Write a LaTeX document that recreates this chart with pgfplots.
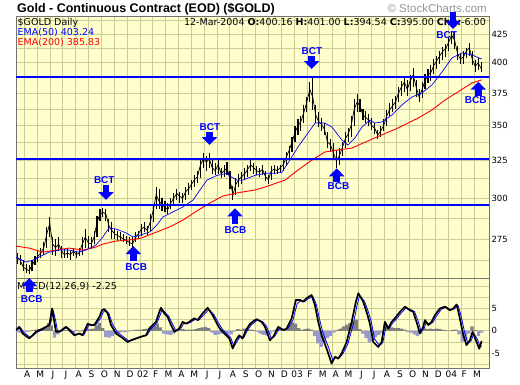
\documentclass[border=0pt]{standalone}
\usepackage{pgfplots}
\pgfplotsset{compat=1.18}
\usepackage{pgfplotstable}
\usepackage{fontspec}
\setmainfont{DejaVu Sans}
\newfontfamily\arial{Liberation Sans}
\usetikzlibrary{arrows.meta}
\definecolor{bgyellow}{RGB}{255,255,204}
\definecolor{gridc}{RGB}{204,204,153}
\definecolor{histgray}{RGB}{128,128,128}
\definecolor{histblue}{RGB}{153,153,204}
\definecolor{scgray}{RGB}{150,150,150}
\definecolor{sblue}{RGB}{0,0,255}
\definecolor{sred}{RGB}{255,0,0}

\pgfplotstableread{
m c l h
2.45 264 261 267
2.68 263 260 266
2.91 259 257 263
3.14 258 256 261
3.37 257 255 260
3.60 260 257 263
3.83 263 260 265
4.06 265 262 268
4.29 267 264 270
4.52 270 266 273
4.75 278 270 282
4.98 284 276 288
5.21 272 266 276
5.44 270 265 275
5.67 272 268 276
5.90 268 264 271
6.13 266 264 269
6.36 267 264 269
6.59 266 263 268
6.82 268 265 270
7.05 266 264 268
7.28 267 265 270
7.51 272 266 276
7.74 276 270 281
7.97 273 270 277
8.20 272 269 276
8.43 276 272 280
8.66 285 276 289
8.89 290 286 293
9.12 291 288 294
9.35 290 286 293
9.58 283 279 287
9.81 280 275 285
10.04 278 275 281
10.27 277 274 280
10.50 276 274 279
10.73 275 273 278
10.96 274 272 277
11.19 273 271 276
11.42 272 270 276
11.65 276 273 279
11.88 278 275 280
12.11 281 277 284
12.34 282 279 285
12.57 280 277 283
12.80 285 280 290
13.03 292 285 296
13.26 302 293 307
13.49 298 293 306
13.72 296 292 300
13.95 294 291 298
14.18 293 290 297
14.41 297 293 300
14.64 300 296 303
14.87 303 299 306
15.10 301 297 304
15.33 300 297 303
15.56 304 299 307
15.79 306 302 310
16.02 309 305 312
16.25 312 307 315
16.48 314 310 318
16.71 322 313 326
16.94 326 320 330
17.17 324 318 328
17.40 326 320 330
17.63 320 316 326
17.86 318 315 323
18.09 322 316 325
18.32 316 313 320
18.55 318 314 322
18.78 320 315 324
19.01 312 306 318
19.24 302 299 308
19.47 309 302 313
19.70 312 307 316
19.93 314 309 317
20.16 316 312 320
20.39 319 314 322
20.62 322 318 325
20.85 320 316 323
21.08 318 315 321
21.31 317 314 320
21.54 319 315 322
21.77 314 311 318
22.00 312 309 315
22.23 318 312 321
22.46 319 316 322
22.69 318 316 321
22.92 320 317 322
23.15 322 318 325
23.38 327 321 331
23.61 332 326 335
23.84 338 331 342
24.07 345 338 350
24.30 350 343 355
24.53 353 346 357
24.76 360 352 366
24.99 368 360 372
25.22 378 368 384
25.45 372 362 389
25.68 358 352 366
25.91 353 349 360
26.14 351 346 356
26.37 347 343 352
26.60 338 334 345
26.83 336 331 340
27.06 330 325 337
27.29 325 320 332
27.52 328 322 334
27.75 334 328 338
27.98 340 334 345
28.21 344 338 348
28.44 350 342 357
28.67 362 350 370
28.90 368 360 374
29.13 365 360 370
29.36 358 354 363
29.59 356 352 361
29.82 354 350 359
30.05 350 347 356
30.28 348 344 352
30.51 343 340 347
30.74 346 342 350
30.97 350 346 355
31.20 357 350 362
31.43 362 357 367
31.66 365 360 370
31.89 368 363 373
32.12 375 368 380
32.35 380 373 385
32.58 384 376 389
32.81 378 373 386
33.04 385 377 390
33.27 390 380 396
33.50 380 372 386
33.73 372 368 378
33.96 378 371 384
34.19 385 378 391
34.42 390 383 395
34.65 392 385 398
34.88 398 391 403
35.11 402 395 406
35.34 406 399 410
35.57 410 402 414
35.80 412 405 416
36.03 418 410 422
36.26 424 416 428
36.49 420 412 427
36.72 408 402 415
36.95 403 399 408
37.18 405 399 410
37.41 410 404 413
37.64 413 406 417
37.87 403 398 410
38.10 397 392 402
38.33 400 394 404
38.56 395 392 401
}\price

\pgfplotstableread{
m v
2.35 264.6
3.13 261.8
3.68 262.9
4.14 264.6
4.92 267.4
5.70 268.6
6.48 268.6
7.26 267.4
7.80 268.6
8.58 271.5
9.12 276.2
9.59 281.5
10.14 280.9
10.91 278.6
11.46 276.2
12.08 277.4
12.78 279.2
13.33 283.4
13.79 288.2
14.57 291.3
15.35 294.4
16.13 298.7
16.67 305.2
17.22 311.7
17.99 314.8
18.77 316.2
19.16 313.5
19.55 311.7
20.01 311.7
20.95 314.8
21.73 316.2
22.51 316.2
23.05 316.9
23.52 323.2
24.30 334.4
25.08 344.5
25.63 351.9
26.40 351.9
26.95 348.9
27.72 339.4
28.19 335.8
28.73 340.9
29.28 348.9
29.90 354.2
30.29 351.9
30.83 352.7
31.61 358.0
32.39 365.7
33.17 372.0
33.95 375.2
34.73 381.7
35.51 392.3
36.29 404.2
37.07 408.5
37.84 406.8
38.60 403.2
}\emafifty

\pgfplotstableread{
m v
2.35 270.9
3.37 269.7
4.46 267.4
5.47 268.6
6.48 269.7
7.57 268.6
8.58 270.3
9.12 272.0
10.14 273.8
11.15 274.4
12.08 275.5
13.33 279.2
14.34 282.2
15.35 286.3
16.44 291.9
17.45 296.9
18.46 301.3
19.55 303.3
20.95 305.2
21.73 307.1
23.29 311.7
24.30 318.4
25.39 325.3
26.40 330.9
27.41 332.3
28.50 333.7
29.90 339.4
32.08 348.2
33.64 355.6
34.73 361.8
35.74 369.6
36.75 376.0
37.84 383.3
38.60 385.8
}\ematwohundred

\pgfplotstableread{
m v
2.35 0.15
2.61 0.9
2.87 -0.6
3.39 -1.7
3.91 -0.2
4.43 0.5
4.95 1.3
5.16 5.0
5.34 2.0
5.47 -0.2
5.73 -0.2
6.24 0.9
6.50 0.15
6.89 -1.0
7.28 -0.6
7.54 -1.0
7.93 1.6
8.19 1.3
8.45 1.3
8.84 3.1
9.05 4.6
9.23 4.85
9.49 3.9
9.75 1.3
10.14 -0.6
10.65 -1.6
11.04 -2.5
11.30 -2.1
11.69 -1.7
12.08 -1.3
12.47 -1.0
12.73 0.5
12.99 1.3
13.25 2.0
13.51 4.25
13.64 5.15
13.90 3.9
14.16 3.1
14.42 1.3
14.68 -0.2
15.06 0.5
15.32 2.0
15.58 1.6
15.84 2.0
16.23 2.8
16.49 2.4
16.88 3.9
17.27 5.15
17.66 3.5
18.05 1.3
18.31 0.15
18.57 -0.6
18.96 -1.7
19.22 -3.95
19.47 -2.1
19.73 -1.0
19.99 -1.7
20.25 0.15
20.56 1.5
20.85 2.2
21.08 2.6
21.47 2.0
21.73 0.9
22.12 -2.1
22.38 -1.3
22.77 0.9
23.16 0.15
23.42 0.5
23.81 2.8
24.14 6.9
24.45 6.9
24.71 6.5
24.97 7.3
25.36 8.0
25.62 5.75
25.88 2.0
26.14 -1.0
26.53 -3.95
26.92 -7.3
27.18 -5.8
27.44 -6.2
27.70 -5.0
28.09 -2.5
28.48 2.0
28.81 6.5
29.00 8.4
29.38 6.5
29.64 4.25
29.90 1.6
30.16 -2.5
30.55 -3.6
30.81 -2.5
31.07 2.0
31.33 0.5
31.59 2.0
31.85 2.8
32.24 4.25
32.63 5.4
33.01 4.6
33.27 4.25
33.53 2.0
33.79 -0.6
34.05 0.9
34.18 2.4
34.44 1.3
34.70 2.0
34.96 3.5
35.35 5.0
35.74 5.4
36.13 4.6
36.39 5.0
36.65 5.9
36.85 3.5
37.17 -1.0
37.42 -3.2
37.68 -2.1
37.89 -0.2
38.15 -2.1
38.41 -4.0
38.60 -2.25
}\macd

\pgfplotstableread{
m v
2.45 0.2
2.71 0.7
2.97 -0.4
3.49 -1.5
4.01 -0.3
4.53 0.4
5.05 1.6
5.26 4.4
5.44 2.3
5.57 0.1
5.83 -0.1
6.34 0.8
6.60 0.2
6.99 -0.9
7.38 -0.6
7.64 -0.9
8.03 1.3
8.29 1.3
8.55 1.3
8.94 2.8
9.15 4.2
9.33 4.6
9.59 3.9
9.85 1.6
10.24 -0.3
10.75 -1.4
11.14 -2.3
11.40 -2.1
11.79 -1.7
12.18 -1.3
12.57 -0.9
12.83 0.3
13.09 1.1
13.35 1.9
13.61 3.8
13.74 4.8
14.00 4.0
14.26 3.2
14.52 1.6
14.78 0.1
15.16 0.4
15.42 1.7
15.68 1.6
15.94 1.9
16.33 2.6
16.59 2.4
16.98 3.6
17.37 4.8
17.76 3.6
18.15 1.6
18.41 0.4
18.67 -0.4
19.06 -1.5
19.32 -3.5
19.57 -2.3
19.83 -1.2
20.09 -1.5
20.35 0.0
20.66 1.3
20.95 2.0
21.18 2.4
21.57 2.0
21.83 1.1
22.22 -1.6
22.48 -1.3
22.87 0.6
23.26 0.3
23.52 0.5
23.91 2.4
24.24 6.1
24.55 6.8
24.81 6.5
25.07 7.1
25.46 7.7
25.72 6.0
25.98 2.6
26.24 -0.4
26.63 -3.3
27.02 -6.6
27.28 -5.9
27.54 -6.0
27.80 -5.1
28.19 -2.9
28.58 1.2
28.91 5.8
29.10 7.9
29.48 6.6
29.74 4.6
30.00 2.1
30.26 -1.8
30.65 -3.3
30.91 -2.6
31.17 1.3
31.43 0.7
31.69 1.8
31.95 2.6
32.34 4.0
32.73 5.2
33.11 4.7
33.37 4.3
33.63 2.4
33.89 -0.2
34.15 0.8
34.28 2.0
34.54 1.4
34.80 1.9
35.06 3.2
35.45 4.8
35.84 5.3
36.23 4.7
36.49 4.9
36.75 5.7
36.95 3.9
37.27 -0.3
37.52 -2.8
37.78 -2.2
37.99 -0.6
38.25 -1.8
38.51 -3.6
38.60 -3.3
}\signal

\pgfplotstableread{
m h
2.40 -0.3
2.65 -0.4
2.90 -0.5
3.15 -0.3
3.40 -0.2
3.65 0.1
3.90 0.3
4.15 0.4
4.40 0.4
4.65 0.6
4.90 1.8
5.10 1.2
5.35 -1.5
5.60 -0.8
5.85 -0.3
6.10 0.2
6.35 0.1
6.60 -0.3
6.85 -0.4
7.10 0.1
7.35 -0.2
7.60 0.2
7.85 0.6
8.10 0.4
8.35 0.5
8.60 1.2
8.85 1.8
9.10 0.6
9.35 -1.4
9.60 -1.5
9.85 -1.2
10.10 -0.8
10.35 -0.5
10.60 -0.3
10.85 -0.3
11.10 -0.2
11.35 0.1
11.60 0.2
11.85 0.3
12.10 0.3
12.35 0.4
12.60 0.5
12.85 1.0
13.10 1.2
13.35 1.6
13.60 0.8
13.85 -0.6
14.10 -0.8
14.35 -0.9
14.60 -0.6
14.85 -0.2
15.10 0.2
15.35 0.4
15.60 0.2
15.85 0.3
16.10 0.3
16.35 0.4
16.60 0.6
16.85 0.8
17.10 0.9
17.35 0.6
17.60 -0.4
17.85 -0.9
18.10 -0.8
18.35 -0.6
18.60 -0.4
18.85 -0.6
19.10 -0.8
19.35 -0.2
19.60 0.4
19.85 0.3
20.10 0.5
20.35 0.4
20.60 0.3
20.85 0.2
21.10 -0.2
21.35 -0.6
21.60 -0.9
21.85 -1.0
22.10 -0.7
22.35 -0.2
22.60 0.3
22.85 0.4
23.10 0.1
23.35 0.4
23.60 1.2
23.85 1.9
24.10 1.6
24.35 0.6
24.60 0.2
24.85 0.4
25.10 0.5
25.35 0.3
25.60 -1.2
25.85 -2.8
26.10 -3.6
26.35 -2.6
26.60 -1.6
26.85 -1.2
27.10 -0.4
27.35 0.2
27.60 0.5
27.85 1.0
28.10 1.4
28.35 1.8
28.60 2.3
28.85 2.5
29.10 0.4
29.35 -0.6
29.60 -1.6
29.85 -2.6
30.10 -2.2
30.35 -1.4
30.60 -0.9
30.85 -0.4
31.10 1.8
31.35 1.0
31.60 0.8
31.85 0.6
32.10 0.6
32.35 0.5
32.60 0.3
32.85 -0.3
33.10 -0.4
33.35 -0.8
33.60 -1.2
33.85 -0.6
34.10 0.6
34.35 0.4
34.60 0.5
34.85 0.4
35.10 0.5
35.35 0.4
35.60 0.2
35.85 0.1
36.10 -0.1
36.35 0.2
36.60 0.3
36.85 -0.8
37.10 -2.4
37.35 -2.0
37.60 -0.6
37.85 1.0
38.10 0.2
38.35 -1.2
38.60 -0.4
}\hist

\newcommand\hdr{\fontsize{9.5}{11}\selectfont}
\newcommand\tck{\fontsize{8.5}{10}\selectfont}
\newcommand\bc{\arial\bfseries\fontsize{10}{11}\selectfont}

\begin{document}
\begin{tikzpicture}
\path[use as bounding box] (0,0) rectangle (520pt,-384pt);
\fill[white] (0,0) rectangle (520pt,-384pt);

\begin{axis}[
  at={(16pt,-16pt)}, anchor=north west,
  scale only axis, width=473pt, height=262pt,
  xmin=2.354, xmax=39.17,
  ymode=log, ymin=253.1, ymax=441.9,
  axis background/.style={fill=bgyellow},
  xtick={3,...,38}, xticklabels={},
  ytick={275,300,325,350,375,400,425},
  yticklabels={275,300,325,350,375,400,425},
  minor ytick={262.5,287.5,312.5,337.5,362.5,387.5,412.5,437.5},
  grid=both,
  major grid style={draw=gridc, line width=0.8pt},
  minor grid style={draw=gridc, line width=0.8pt},
  yticklabel pos=right,
  major tick length=0pt, minor tick length=0pt,
  axis line style={draw=black!55, line width=0.7pt},
  y tick label style={font=\tck, anchor=west, xshift=-1pt},
]
\addplot[black, line width=0.7pt, error bars/.cd, y dir=both, y explicit,
  error bar style={line width=1.1pt, black}, error mark=none]
  table[x=m, y=c, y error plus expr=\thisrow{h}-\thisrow{c}, y error minus expr=\thisrow{c}-\thisrow{l}] {\price};
\addplot[sred, line width=0.9pt] table[x=m, y=v] {\ematwohundred};
\addplot[sblue, line width=0.7pt] table[x=m, y=v] {\emafifty};
\addplot[sblue, line width=2pt] coordinates {(2.354,388.5) (39.17,388.5)};
\addplot[sblue, line width=2pt] coordinates {(2.354,325.8) (39.17,325.8)};
\addplot[sblue, line width=2pt] coordinates {(2.354,295.5) (39.17,295.5)};
\end{axis}

\begin{axis}[
  at={(16pt,-278pt)}, anchor=north west,
  scale only axis, width=473pt, height=90pt,
  xmin=2.354, xmax=39.17,
  ymin=-8.3, ymax=11.8,
  axis background/.style={fill=bgyellow},
  xtick={3,...,38},
  xticklabels={A,M,J,J,A,S,O,N,D,02,F,M,A,M,J,J,A,S,O,N,D,03,F,M,A,M,J,J,A,S,O,N,D,04,F,M},
  ytick={-5,0,5}, yticklabels={-5,0,5},
  minor ytick={-7.5,-2.5,2.5,7.5,10},
  grid=both,
  major grid style={draw=gridc, line width=0.8pt},
  minor grid style={draw=gridc, line width=0.8pt},
  yticklabel pos=right,
  major tick length=0pt, minor tick length=0pt,
  axis line style={draw=black!55, line width=0.7pt},
  y tick label style={font=\tck, anchor=west, xshift=-1pt},
  x tick label style={font=\fontsize{9}{10}\selectfont, anchor=north, inner sep=0pt, yshift=-2.5pt, xshift=3pt},
]
\addplot[ybar, bar width=3.4pt, bar shift=0pt, fill=histgray, draw=none, restrict y to domain=0:100] table[x=m, y=h] {\hist};
\addplot[ybar, bar width=3.4pt, bar shift=0pt, fill=histblue, draw=none, restrict y to domain=-100:0] table[x=m, y=h] {\hist};
\addplot[sblue, line width=0.8pt] table[x=m, y=v] {\signal};
\addplot[black, line width=1.7pt, line join=round] table[x=m, y=v] {\macd};
\end{axis}

% header texts
\node[anchor=base west, inner sep=0pt] at (17pt,-12.7pt) {\arial\bfseries\fontsize{12.5}{14}\selectfont Gold - Continuous Contract (EOD) (\$GOLD)};
\node[anchor=base east, inner sep=0pt, text=scgray] at (487pt,-12.5pt) {\arial\fontsize{11.5}{13}\selectfont \textcopyright\ StockCharts.com};
\node[anchor=base west, inner sep=0pt] at (17.5pt,-25pt) {\hdr \$GOLD Daily};
\node[anchor=base west, inner sep=0pt, text=sblue] at (17.5pt,-35pt) {\hdr EMA(50) 403.24};
\node[anchor=base west, inner sep=0pt, text=sred] at (17.5pt,-45pt) {\hdr EMA(200) 385.83};
\node[anchor=base east, inner sep=0pt] at (486pt,-25pt) {\hdr 12-Mar-2004 \textbf{O:}400.16 \textbf{H:}401.00 \textbf{L:}394.54 \textbf{C:}395.00 \textbf{Chg:}-6.00};
\node[anchor=base west, inner sep=0pt] at (17pt,-289.5pt) {\hdr MACD(12,26,9) -2.25};

% BCT / BCB annotations
\tikzset{bca/.style={sblue, line width=6.5pt, -{Triangle[width=15pt,length=8pt]}}}
\draw[bca] (29.3pt,-292pt) -- (29.3pt,-278pt);
\node[text=sblue, inner sep=0pt] at (31.7pt,-299.3pt) {\bc BCB};
\draw[bca] (106pt,-184.5pt) -- (106pt,-200pt);
\node[text=sblue, inner sep=0pt] at (104.3pt,-180pt) {\bc BCT};
\draw[bca] (133.3pt,-260.5pt) -- (133.3pt,-246pt);
\node[text=sblue, inner sep=0pt] at (136.3pt,-267pt) {\bc BCB};
\draw[bca] (209.5pt,-131.5pt) -- (209.5pt,-145pt);
\node[text=sblue, inner sep=0pt] at (210pt,-127pt) {\bc BCT};
\draw[bca] (235pt,-223.5pt) -- (235pt,-208.3pt);
\node[text=sblue, inner sep=0pt] at (235.5pt,-230pt) {\bc BCB};
\draw[bca] (311.7pt,-55.5pt) -- (311.7pt,-69pt);
\node[text=sblue, inner sep=0pt] at (312pt,-51pt) {\bc BCT};
\draw[bca] (336.7pt,-182pt) -- (336.7pt,-168.3pt);
\node[text=sblue, inner sep=0pt] at (338.5pt,-186pt) {\bc BCB};
\draw[bca] (453pt,-11.5pt) -- (453pt,-29pt);
\node[text=sblue, inner sep=0pt] at (446.7pt,-35.5pt) {\bc BCT};
\draw[bca] (478.3pt,-95.5pt) -- (478.3pt,-81.7pt);
\node[text=sblue, inner sep=0pt] at (475.8pt,-100.5pt) {\bc BCB};
\end{tikzpicture}
\end{document}
